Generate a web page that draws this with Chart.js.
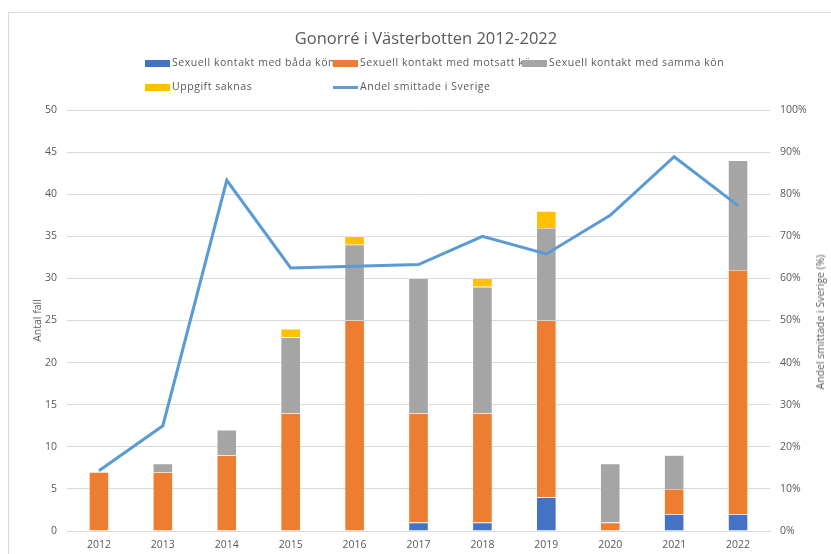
<!DOCTYPE html>
<html>
<head>
<meta charset="utf-8">
<script src="https://cdn.jsdelivr.net/npm/chart.js@4"></script>
<style>
  body { margin: 0; background: #fff; }
  #wrap { position: relative; width: 831px; height: 554px; font-family: "Open Sans", sans-serif; color: #595959; overflow: hidden; }
  #frame { position: absolute; left: 8px; top: 12px; width: 840px; height: 560px; border: 1px solid #d9d9d9; }
  canvas { position: absolute; left: 0; top: 0; }
  #title { position: absolute; left: 0; width: 852px; top: 26px; text-align: center; font-size: 16.5px; }
  .lg { position: absolute; font-size: 10.5px; letter-spacing: 0.55px; white-space: nowrap; }
  .sw { position: absolute; width: 25px; height: 7px; }
  .ln { position: absolute; width: 25px; height: 3px; }
  #rtitle { position: absolute; left: 820px; top: 322px; font-size: 10.5px; white-space: nowrap;
            transform: translate(-50%, -50%) rotate(-90deg); }
</style>
</head>
<body>
<div id="wrap">
  <div id="frame"></div>
  <canvas id="chart" width="831" height="554"></canvas>
  <div id="title">Gonorré i Västerbotten 2012-2022</div>
  <div id="rtitle">Andel smittade i Sverige (%)</div>
  <div id="legend"></div>
</div>
<script>
// Gonorrhoea cases per year by transmission route, plus share infected in Sweden
const years = ['2012', '2013', '2014', '2015', '2016', '2017', '2018', '2019', '2020', '2021', '2022'];
const badaKon   = [0, 0, 0, 0, 0, 1, 1, 4, 0, 2, 2];
const motsattKon = [7, 7, 9, 14, 25, 13, 13, 21, 1, 3, 29];
const sammaKon  = [0, 1, 3, 9, 9, 16, 15, 11, 7, 4, 13];
const saknas    = [0, 0, 0, 1, 1, 0, 1, 2, 0, 0, 0];
const andelSverige = [14.3, 25, 83.3, 62.5, 62.9, 63.3, 70, 65.8, 75, 88.9, 77.3];

const colors = {
  bada: '#4472c4',
  motsatt: '#ed7d31',
  samma: '#a5a5a5',
  saknas: '#ffc000',
  andel: '#5b9bd5'
};

// legend drawn as html so the entries sit where they should
const legendItems = [
  { text: 'Sexuell kontakt med båda kön', color: colors.bada, x: 145, y: 63 },
  { text: 'Sexuell kontakt med motsatt kön', color: colors.motsatt, x: 333, y: 63 },
  { text: 'Sexuell kontakt med samma kön', color: colors.samma, x: 522, y: 63 },
  { text: 'Uppgift saknas', color: colors.saknas, x: 145, y: 87 },
  { text: 'Andel smittade i Sverige', color: colors.andel, x: 333, y: 87, line: true }
];
const legend = document.getElementById('legend');
legendItems.forEach(item => {
  const t = document.createElement('div');
  t.className = 'lg';
  t.textContent = item.text;
  t.style.left = (item.x + 27) + 'px';
  t.style.top = (item.y - 8) + 'px';
  legend.appendChild(t);
});
legendItems.forEach(item => {
  const s = document.createElement('div');
  s.className = item.line ? 'ln' : 'sw';
  s.style.background = item.color;
  s.style.left = item.x + 'px';
  s.style.top = (item.y - (item.line ? 1 : 3)) + 'px';
  legend.appendChild(s);
});

const tickFont = { family: '"Open Sans", sans-serif', size: 10.5 };
const barBorder = 'rgba(255,255,255,0.7)';

new Chart(document.getElementById('chart'), {
  data: {
    labels: years,
    datasets: [
      { type: 'line', label: 'Andel smittade i Sverige', data: andelSverige, yAxisID: 'y1',
        borderColor: colors.andel, borderWidth: 3, pointRadius: 0, tension: 0, order: 0 },
      { type: 'bar', label: 'Sexuell kontakt med båda kön', data: badaKon, backgroundColor: colors.bada,
        borderColor: barBorder, borderWidth: 0.6, stack: 's', order: 1 },
      { type: 'bar', label: 'Sexuell kontakt med motsatt kön', data: motsattKon, backgroundColor: colors.motsatt,
        borderColor: barBorder, borderWidth: 0.6, stack: 's', order: 1 },
      { type: 'bar', label: 'Sexuell kontakt med samma kön', data: sammaKon, backgroundColor: colors.samma,
        borderColor: barBorder, borderWidth: 0.6, stack: 's', order: 1 },
      { type: 'bar', label: 'Uppgift saknas', data: saknas, backgroundColor: colors.saknas,
        borderColor: barBorder, borderWidth: 0.6, stack: 's', order: 1 }
    ]
  },
  options: {
    responsive: false,
    animation: false,
    layout: { padding: { top: 110, left: 28, right: 0, bottom: 0 } },
    datasets: { bar: { categoryPercentage: 1, barPercentage: 0.31 } },
    plugins: { legend: { display: false }, title: { display: false }, tooltip: { enabled: false } },
    scales: {
      x: {
        stacked: true,
        grid: { display: false, drawTicks: false },
        border: { color: '#d9d9d9' },
        ticks: { color: '#595959', font: tickFont, padding: 8, maxRotation: 0 },
        afterFit: s => { s.height = 23; }
      },
      y: {
        stacked: true,
        position: 'left',
        min: 0, max: 50,
        ticks: { stepSize: 5, color: '#595959', font: tickFont, padding: 10 },
        grid: { color: '#d9d9d9', drawTicks: false },
        border: { display: false },
        title: { display: true, text: 'Antal fall', color: '#595959', font: tickFont },
        afterFit: s => { s.width = 39; }
      },
      y1: {
        position: 'right',
        min: 0, max: 100,
        ticks: { stepSize: 10, color: '#595959', font: tickFont, padding: 10, callback: v => v + '%' },
        grid: { display: false, drawTicks: false },
        border: { display: false },
        afterFit: s => { s.width = 61; }
      }
    }
  }
});
</script>
</body>
</html>
